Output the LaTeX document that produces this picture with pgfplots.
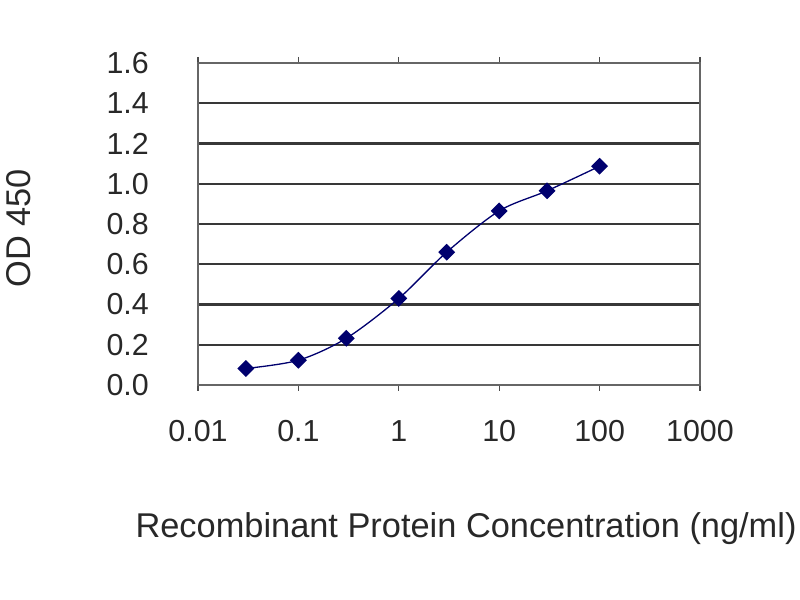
\documentclass[border=0pt]{standalone}
\usepackage{pgfplots}
\pgfplotsset{compat=1.18}
\usepackage{fontspec}
\setmainfont{Liberation Sans}
\definecolor{navy}{RGB}{0,0,110}
\definecolor{txt}{RGB}{40,40,40}
\begin{document}
\begin{tikzpicture}[x=1bp,y=1bp]
\useasboundingbox (0,0) rectangle (800,600);
\begin{axis}[
  at={(198bp,215bp)}, anchor=south west,
  scale only axis, width=502bp, height=322bp,
  xmode=log, xmin=0.01, xmax=1000,
  ymin=0, ymax=1.6,
  xtick={0.01,0.1,1,10,100,1000},
  xticklabels={0.01,0.1,1,10,100,1000},
  ytick={0,0.2,0.4,0.6,0.8,1.0,1.2,1.4,1.6},
  yticklabels={0.0,0.2,0.4,0.6,0.8,1.0,1.2,1.4,1.6},
  minor xtick={}, minor ytick={},
  log basis x=10,
  tick align=outside, major tick length=6bp,
  ytick style={draw=none},
  xtick style={black!70, line width=1.2bp},
  ymajorgrids,
  major grid style={black!78, line width=2.4bp},
  axis line style={black!60, line width=1.2bp},
  /pgf/number format/assume math mode=true,
  ticklabel style={font=\fontsize{30.5}{36}\selectfont, text=txt},
  xticklabel style={anchor=north, inner sep=0pt, yshift=-29bp},
  yticklabel style={anchor=east, inner sep=0pt, xshift=-43bp},
  xlabel={Recombinant Protein Concentration (ng/ml)},
  ylabel={OD 450},
  label style={font=\fontsize{34.5}{40}\selectfont, text=txt},
  xlabel style={at={(axis description cs:0.534,-0.445)}, anchor=center, inner sep=0pt},
  ylabel style={at={(axis description cs:-0.357,0.486)}, anchor=center, rotate=0, inner sep=0pt},
  clip=false,
]
\addplot[navy, line width=1.3bp, smooth, tension=0.5, mark=square*, mark size=5.3bp, mark options={rotate=45, fill=navy, draw=navy}]
  coordinates {
  (0.03,0.082) (0.1,0.123) (0.3,0.232) (1,0.43) (3,0.66) (10,0.865) (30,0.965) (100,1.087)
  };
\end{axis}
\end{tikzpicture}
\end{document}
